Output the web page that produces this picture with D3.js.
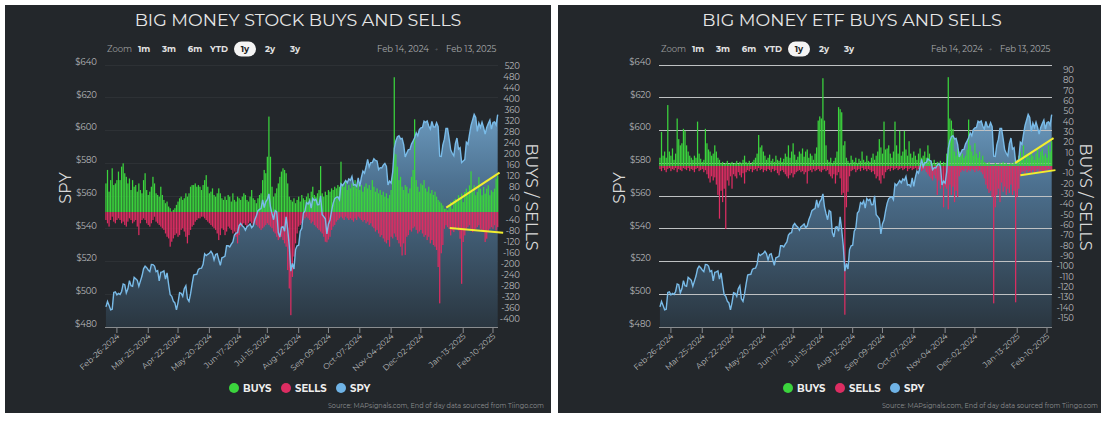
<!DOCTYPE html>
<html><head><meta charset="utf-8">
<script src="https://cdn.jsdelivr.net/npm/d3@7"></script>
<style>body{margin:0;background:#fff;}svg{display:block}</style>
</head><body>
<svg id="c" width="1108" height="423"></svg>
<script>
// ---------------- DATA ----------------
const holidays = ["2024-02-19","2024-03-29","2024-05-27","2024-06-19","2024-07-04","2024-09-02","2024-11-28","2024-12-25","2025-01-01","2025-01-09","2025-01-20"];
const tickLabels = ["Feb-26-2024","Mar-25-2024","Apr-22-2024","May-20-2024","Jun-17-2024","Jul-15-2024","Aug-12-2024","Sep-09-2024","Oct-07-2024","Nov-04-2024","Dec-02-2024","Jan-13-2025","Feb-10-2025"];
const spyTicks = [480,500,520,540,560,580,600,620,640];
const stockTicks = [520,480,440,400,360,320,280,240,200,160,120,80,40,0,-40,-80,-120,-160,-200,-240,-280,-320,-360,-400];
const etfTicks = [90,80,70,60,50,40,30,20,10,0,-10,-20,-30,-40,-50,-60,-70,-80,-90,-100,-110,-120,-130,-140,-150];
const legendItems = ["BUYS","SELLS","SPY"];

// SPY (adjusted close), one value per trading day Feb 14 2024 .. Feb 13 2025
const spy = [
492.3,495.6,493.2,490.5,490.9,501.1,501.5,499.6,500.5,499.9,501.7,506.3,505.8,500.8,503.3,508.3,505.2,504.8,510.3,509.5,508.5,
504.9,508.0,511.1,515.5,517.2,516.2,514.8,513.8,518.2,518.1,517.2,513.8,514.4,508.2,513.4,513.7,514.3,509.2,513.0,506.0,
499.7,498.7,495.8,494.7,490.5,494.9,500.9,500.6,498.7,503.4,505.2,497.2,495.6,500.2,506.4,511.7,512.1,512.2,515.2,515.8,
515.9,518.3,524.7,523.6,524.4,525.0,526.3,524.7,521.0,524.3,524.7,521.1,517.6,522.3,522.7,523.3,529.6,529.6,528.9,530.6,
531.9,536.2,537.3,537.6,541.9,543.2,541.8,
541.0,539.2,541.3,542.0,542.9,540.7,541.8,545.5,548.0,551.1,551.8,552.3,557.7,552.9,556.4,557.9,561.3,553.3,549.2,545.5,
551.1,550.3,537.7,535.0,540.9,541.3,538.5,547.3,539.5,529.5,514.1,518.8,515.4,527.3,529.6,529.9,538.5,540.3,549.6,550.8,
556.0,555.1,557.0,552.6,558.5,557.2,558.0,554.7,554.8,560.1,548.6,547.4,546.1,536.9,542.9,545.3,550.9,555.5,558.4,559.2,
559.5,557.8,567.4,
566.4,567.8,569.4,568.1,570.4,569.6,571.9,566.7,567.0,565.9,571.1,565.9,571.3,575.2,573.9,577.7,582.4,577.9,580.4,580.4,
582.7,581.7,581.4,576.1,577.3,577.1,578.9,579.9,578.1,566.7,569.1,567.9,574.8,589.0,593.6,596.2,596.8,594.9,595.2,591.4,
583.8,586.2,588.3,588.5,591.7,593.5,595.5,598.6,596.8,600.5,601.6,601.9,605.7,605.0,605.8,602.7,600.8,605.5,602.3,602.2,
604.8,602.3,584.3,584.1,
591.2,594.7,601.3,601.3,595.0,588.2,586.1,584.6,592.0,595.4,588.6,589.5,580.5,581.4,582.2,592.8,591.6,597.6,603.1,606.4,
609.8,608.0,599.4,604.5,601.8,605.0,601.8,597.8,601.8,604.2,606.3,600.8,604.9,605.3,603.4,609.7];

const stockBuys = [
104,153,74,116,159,98,104,116,147,116, 165,177,141,128,104,122,80,116,92,98,
74,104,80,68,116,141,80,62,74,92, 128,104,68,62,56,92,62,44,32,38,
20,14,2,8,14,26,38,50,56,44, 50,68,56,68,92,98,98,104,92,98,
92,80,98,116,134,92,68,74,86,62, 56,68,86,68,50,44,56,44,62,56,
38,68,44,38,56,50,44,56,68,62, 44,38,56,80,50,44,32,50,62,68,
116,153,141,201,347,201,92,56,68,86, 104,128,147,159,153,141,104,56,44,38,
50,32,44,56,38,62,50,44,56,68, 50,74,92,62,56,68,80,167,68,56,
74,62,80,74,86,80,92,86,98,92, 183,98,92,110,80,98,86,104,92,116,
86,104,80,98,74,92,104,86,98,80, 116,92,74,86,68,80,62,74,56,68,
50,62,80,141,490,210,165,116,128,92, 80,98,92,68,86,128,153,337,116,92,
74,104,98,116,86,74,92,68,80,62, 74,56,44,38,32,24,12,12,6,24,
36,12,42,48,36,61,48,67,36,73, 85,61,97,148,73,97,61,73,127,85,
61,91,67,85,97,61,79,73,85,121, 133];

const stockSells = [
-29,-41,-53,-29,-17,-35,-41,-29,-23,-29, -41,-35,-47,-53,-35,-23,-29,-41,-35,-29,
-53,-84,-41,-29,-23,-29,-41,-47,-53,-41, -29,-17,-35,-41,-47,-53,-59,-65,-78,-90,
-96,-126,-108,-96,-84,-78,-90,-84,-65,-59, -71,-90,-114,-84,-65,-53,-47,-35,-29,-23,
-23,-17,-17,-23,-29,-35,-41,-47,-53,-59, -65,-78,-102,-84,-59,-65,-84,-71,-53,-59,
-65,-78,-71,-90,-114,-84,-53,-47,-41,-47, -53,-41,-35,-41,-47,-41,-47,-53,-59,-65,
-59,-53,-47,-41,-47,-53,-59,-71,-78,-90, -102,-96,-90,-102,-114,-126,-211,-278,-375,-236,
-162,-114,-78,-53,-47,-41,-29,-23,-17,-23, -29,-41,-35,-47,-53,-59,-65,-71,-78,-90,
-108,-110,-100,-90,-65,-53,-47,-35,-29,-23, -17,-23,-29,-17,-23,-29,-23,-29,-35,-23,
-29,-17,-23,-29,-35,-29,-41,-35,-47,-41, -53,-59,-71,-65,-78,-90,-84,-96,-108,-114,
-102,-126,-90,-96,-78,-90,-102,-114,-126,-158, -114,-156,-90,-84,-65,-71,-59,-53,-65,-78,
-71,-65,-78,-90,-84,-102,-90,-114,-102,-120, -126,-138,-200,-332,-150,-120,-61,-48,-55,-61,
-85,-67,-73,-61,-55,-67,-97,-261,-109,-85, -61,-55,-48,-61,-73,-67,-61,-55,-48,-61,
-67,-73,-109,-97,-73,-61,-55,-61,-48,-67, -55];

const etfBuys = [
8,33,10,14,8,59,14,10,17,6, 12,46,26,20,22,36,34,20,14,10,
8,6,10,8,43,12,7,4,6,36, 22,16,14,10,12,20,14,8,6,3,
4,2,3,5,2,3,4,2,3,5, 2,4,3,6,10,4,3,5,2,4,
6,8,12,30,18,20,14,10,6,8, 11,5,7,4,10,6,5,8,4,7,
12,9,20,8,14,22,11,6,9,14, 12,17,9,14,16,8,12,10,6,12,
18,44,48,46,85,44,20,6,4,8, 3,5,8,14,57,55,52,20,24,8,
5,3,10,6,4,8,3,7,5,14, 6,4,10,5,4,8,12,6,10,14,
26,18,12,43,16,17,20,12,8,14, 43,20,12,34,10,14,34,16,10,24,
12,8,14,10,6,12,17,8,10,14, 8,20,12,5,3,6,2,4,3,5,
2,4,3,12,86,46,44,36,14,10, 17,14,10,12,8,10,16,45,20,14,
10,22,12,8,14,6,10,4,3,2, 4,1,2,1,3,2,1,3,2,4,
2,3,1,2,3,2,4,1,6,10, 14,8,20,6,12,10,8,14,10,6,
12,16,8,14,17,10,12,8,20,14, 24];

const etfSells = [
-3,-5,-2,-4,-6,-3,-2,-5,-3,-4, -2,-6,-3,-4,-5,-2,-3,-4,-2,-5,
-3,-4,-6,-3,-2,-5,-4,-3,-6,-4, -8,-12,-16,-10,-14,-11,-18,-28,-51,-24,
-35,-22,-61,-14,-19,-10,-22,-8,-10,-12, -6,-9,-11,-7,-17,-6,-4,-5,-3,-6,
-4,-3,-5,-2,-4,-3,-6,-4,-5,-3, -4,-6,-3,-5,-4,-7,-9,-5,-4,-6,
-8,-10,-12,-9,-7,-11,-8,-6,-5,-4, -6,-5,-8,-6,-17,-5,-4,-6,-3,-5,
-4,-3,-5,-6,-4,-3,-5,-4,-8,-10, -12,-8,-17,-9,-6,-12,-28,-26,-144,-40,
-25,-10,-5,-4,-3,-6,-4,-3,-5,-2, -4,-3,-5,-3,-4,-6,-5,-8,-12,-10,
-14,-17,-9,-12,-6,-4,-3,-5,-2,-4, -3,-2,-4,-3,-2,-4,-3,-2,-5,-3,
-2,-4,-3,-2,-4,-3,-2,-5,-4,-3, -6,-8,-10,-12,-14,-9,-12,-28,-14,-22,
-16,-40,-20,-22,-42,-18,-28,-20,-35,-24, -30,-10,-6,-4,-5,-3,-6,-4,-5,-3,
-4,-6,-3,-5,-4,-6,-8,-12,-18,-22, -26,-24,-30,-133,-40,-28,-22,-35,-16,-25,
-20,-28,-22,-26,-18,-28,-24,-132,-30,-22, -10,-6,-5,-8,-4,-6,-5,-7,-4,-6,
-5,-3,-6,-4,-5,-7,-4,-6,-3,-5, -4];

// hand-drawn trend annotations: [index, value] end points
const stockTrendUp = [[217.2, 16],[251.2, 143]];
const stockTrendDown = [[219.4, -58],[253.5, -75]];
const etfTrendUp = [[226.8, 3],[251.2, 27]];
const etfTrendDown = [[230, -9],[252.4, -4]];

// ---------------- DRAW ----------------
const FONT = "Montserrat, Lato, 'Open Sans', sans-serif";
const svg = d3.select("#c");
const fmtISO = d3.timeFormat("%Y-%m-%d");
const fmtTick = d3.timeFormat("%b-%d-%Y");
const dates = d3.timeDay.range(new Date(2024,1,14), new Date(2025,1,14))
  .filter(d => d.getDay() > 0 && d.getDay() < 6 && !holidays.includes(fmtISO(d)));

const COL = {buy:"#3bd43d", sell:"#dc2d62", spy:"#79bbe8", bg:"#23272b"};

const defs = svg.append("defs");

function drawChart(cfg) {
  const dx = cfg.dx;
  const g = svg.append("g");
  g.append("rect").attr("x", cfg.panelX).attr("y", 5).attr("width", cfg.panelW).attr("height", 408).attr("fill", COL.bg);

  const top = 65, bottom = 327;
  const x = d3.scaleLinear().domain([-0.6, 250.2]).range([105 + dx, 498 + dx]);
  const yL = d3.scaleLinear().domain([480, 640]).range([bottom, top]);
  const yR = d3.scaleLinear().domain(cfg.rDomain).range([bottom, top]);

  const gradId = "grad" + cfg.id;
  const gr = defs.append("linearGradient").attr("id", gradId).attr("gradientUnits", "userSpaceOnUse")
    .attr("x1", 0).attr("x2", 0).attr("y1", top).attr("y2", bottom);
  gr.append("stop").attr("offset", 0).attr("stop-color", "#80b6de");
  gr.append("stop").attr("offset", 0.45).attr("stop-color", "#4d7190");
  gr.append("stop").attr("offset", 1).attr("stop-color", "#2a3640");

  const grid = () => g.append("g").selectAll("line").data(spyTicks.filter(v => v > 480)).join("line")
      .attr("x1", 105 + dx).attr("x2", 498 + dx).attr("y1", d => yL(d)).attr("y2", d => yL(d))
      .attr("stroke", cfg.gridColor).attr("stroke-width", 1).attr("shape-rendering", "crispEdges");

  if (!cfg.gridOver) grid();

  const data = spy.map((v, i) => ({i, v}));
  g.append("path").datum(data)
    .attr("d", d3.area().x(d => x(d.i)).y0(bottom).y1(d => yL(d.v)))
    .attr("fill", `url(#${gradId})`);

  if (cfg.gridOver) grid();

  const bw = 1.25;
  g.append("g").selectAll("rect").data(cfg.buys).join("rect")
    .attr("x", (d, i) => x(i) - bw / 2).attr("width", bw)
    .attr("y", d => yR(d)).attr("height", d => yR(0) - yR(d))
    .attr("fill", COL.buy);
  g.append("g").selectAll("rect").data(cfg.sells).join("rect")
    .attr("x", (d, i) => x(i) - bw / 2).attr("width", bw)
    .attr("y", yR(0)).attr("height", d => yR(d) - yR(0))
    .attr("fill", COL.sell);

  g.append("path").datum(data)
    .attr("d", d3.line().x(d => x(d.i)).y(d => yL(d.v)))
    .attr("fill", "none").attr("stroke", COL.spy).attr("stroke-width", 1.4);

  [cfg.trendUp, cfg.trendDown].forEach(t => {
    g.append("line").attr("x1", x(t[0][0])).attr("y1", yR(t[0][1]))
      .attr("x2", x(t[1][0])).attr("y2", yR(t[1][1]))
      .attr("stroke", "#f2ee2e").attr("stroke-width", 2);
  });

  // x axis
  g.append("line").attr("x1", 105 + dx).attr("x2", 498 + dx).attr("y1", bottom + 0.5).attr("y2", bottom + 0.5)
    .attr("stroke", "#8a8d90").attr("stroke-width", 1);
  tickLabels.forEach(lbl => {
    const idx = dates.findIndex(d => fmtTick(d) === lbl);
    const tx = x(idx);
    g.append("line").attr("x1", tx).attr("x2", tx).attr("y1", bottom).attr("y2", bottom + 6)
      .attr("stroke", "#8a8d90");
    g.append("text").attr("transform", `translate(${tx + 3},${bottom + 10}) rotate(-42)`)
      .attr("text-anchor", "end").attr("font-family", FONT).attr("font-size", 8)
      .attr("fill", "#b9bbbd").text(lbl);
  });

  // left axis labels
  g.append("g").selectAll("text").data(spyTicks).join("text")
    .attr("x", 97 + dx).attr("y", d => yL(d) - 3).attr("dy", "0.35em")
    .attr("text-anchor", "end").attr("font-family", FONT).attr("font-size", 8.5)
    .attr("fill", "#b9bbbd").text(d => "$" + d);
  // right axis labels
  g.append("g").selectAll("text").data(cfg.rTicks).join("text")
    .attr("x", 520 + dx).attr("y", d => yR(d) - 3).attr("dy", "0.35em")
    .attr("text-anchor", "end").attr("font-family", FONT).attr("font-size", 8.5)
    .attr("fill", "#b9bbbd").text(d => d);

  // axis titles
  g.append("text").attr("transform", `translate(${71 + dx},188) rotate(-90)`)
    .attr("text-anchor", "middle").attr("font-family", FONT).attr("font-size", 16)
    .attr("fill", "#d8d8d8").text("SPY");
  g.append("text").attr("transform", `translate(${526 + dx},197) rotate(90)`)
    .attr("text-anchor", "middle").attr("font-family", FONT).attr("font-size", 16)
    .attr("fill", "#d8d8d8").text("BUYS / SELLS");

  // title
  g.append("text").attr("x", 298 + dx).attr("y", 20).attr("dy", "0.35em")
    .attr("text-anchor", "middle").attr("font-family", FONT).attr("font-size", 17.5)
    .attr("fill", "#e6e6e6").text(cfg.title);

  // range selector
  const ry = 49;
  g.append("text").attr("x", 107 + dx).attr("y", ry).attr("dy", "0.35em")
    .attr("font-family", FONT).attr("font-size", 8.5).attr("fill", "#9a9c9e").text("Zoom");
  const btns = [["1m",144],["3m",169],["6m",195],["YTD",219],["1y",245],["2y",270],["3y",295]];
  btns.forEach(([t, bx]) => {
    if (t === "1y") {
      g.append("rect").attr("x", bx - 11 + dx).attr("y", ry - 7.5).attr("width", 22).attr("height", 15)
        .attr("rx", 7.5).attr("fill", "#f4f4f4");
    }
    g.append("text").attr("x", bx + dx).attr("y", ry).attr("dy", "0.35em").attr("text-anchor", "middle")
      .attr("font-family", FONT).attr("font-size", 8.5).attr("font-weight", "bold")
      .attr("fill", t === "1y" ? "#222" : "#e2e2e2").text(t);
  });
  g.append("text").attr("x", 377 + dx).attr("y", ry).attr("dy", "0.35em")
    .attr("font-family", FONT).attr("font-size", 8.5).attr("fill", "#a9abad").text("Feb 14, 2024");
  g.append("text").attr("x", 436 + dx).attr("y", ry).attr("dy", "0.35em").attr("text-anchor", "middle")
    .attr("font-family", FONT).attr("font-size", 6).attr("fill", "#808284").text("\u2192");
  g.append("text").attr("x", 446 + dx).attr("y", ry).attr("dy", "0.35em")
    .attr("font-family", FONT).attr("font-size", 8.5).attr("fill", "#a9abad").text("Feb 13, 2025");

  // legend
  const lx = [234, 286, 341], lc = [COL.buy, COL.sell, "#6fb3e6"];
  legendItems.forEach((t, k) => {
    g.append("circle").attr("cx", lx[k] + dx).attr("cy", 388).attr("r", 5).attr("fill", lc[k]);
    g.append("text").attr("x", lx[k] + 9 + dx).attr("y", 388).attr("dy", "0.35em")
      .attr("font-family", FONT).attr("font-size", 10).attr("font-weight", "bold")
      .attr("fill", "#eeeeee").text(t);
  });

  g.append("text").attr("x", 544 + dx).attr("y", 408).attr("text-anchor", "end")
    .attr("font-family", FONT).attr("font-size", 6.5).attr("fill", "#8c8e90")
    .text("Source: MAPsignals.com, End of day data sourced from Tiingo.com");
}

drawChart({id: "s", dx: 0, panelX: 5, panelW: 546, title: "BIG MONEY STOCK BUYS AND SELLS",
  buys: stockBuys, sells: stockSells, rDomain: [-418, 534.5], rTicks: stockTicks,
  gridColor: "#2d3135", gridOver: false, trendUp: stockTrendUp, trendDown: stockTrendDown});
drawChart({id: "e", dx: 554, panelX: 558, panelW: 543, title: "BIG MONEY ETF BUYS AND SELLS",
  buys: etfBuys, sells: etfSells, rDomain: [-155.9, 97.8], rTicks: etfTicks,
  gridColor: "#bfc1c3", gridOver: true, trendUp: etfTrendUp, trendDown: etfTrendDown});
</script>
</body></html>
